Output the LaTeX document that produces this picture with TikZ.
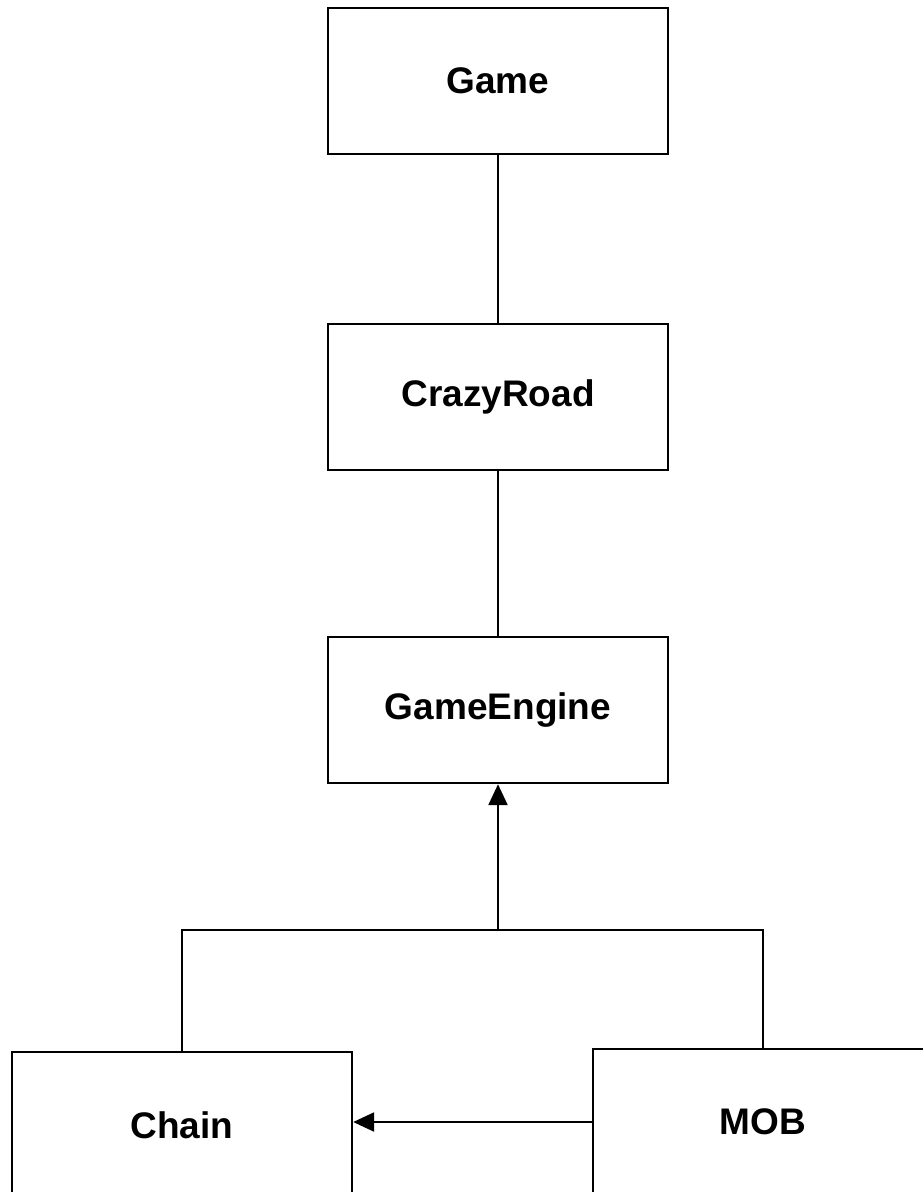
\documentclass[tikz,border=0pt]{standalone}
\usepackage{fontspec}
\setmainfont{Liberation Sans}
\usepackage{tikz}
\usetikzlibrary{positioning,arrows.meta}

\begin{document}
\begin{tikzpicture}[x=1pt, y=-1pt, line width=2.4pt,
  classbox/.style={draw, rectangle, minimum width=340pt, minimum height=146pt, font=\fontsize{37}{44}\selectfont\bfseries},
  inherit/.style={-{Triangle[length=21pt,width=19pt]}}]
\useasboundingbox (0,0) rectangle (922,1192);

% top chain
\node[classbox] (game) at (498,81) {Game};
\node[classbox] (crazyroad) at (498,397) {CrazyRoad};
\node[classbox] (engine) at (498,710) {GameEngine};

% bottom row
\node[classbox] (chain) at (182,1125) {Chain};
\node[classbox] (mob) at (763,1122) {MOB};

\coordinate (join) at (498,930);

\draw (game) -- (crazyroad);
\draw (crazyroad) -- (engine);
\draw[inherit] (join) -- (engine.south);
\draw (chain.north) -- (chain.north |- join) -- (mob.north |- join) -- (mob.north);
\draw[inherit] (mob.west) -- (mob.west -| chain.east);
\end{tikzpicture}
\end{document}
